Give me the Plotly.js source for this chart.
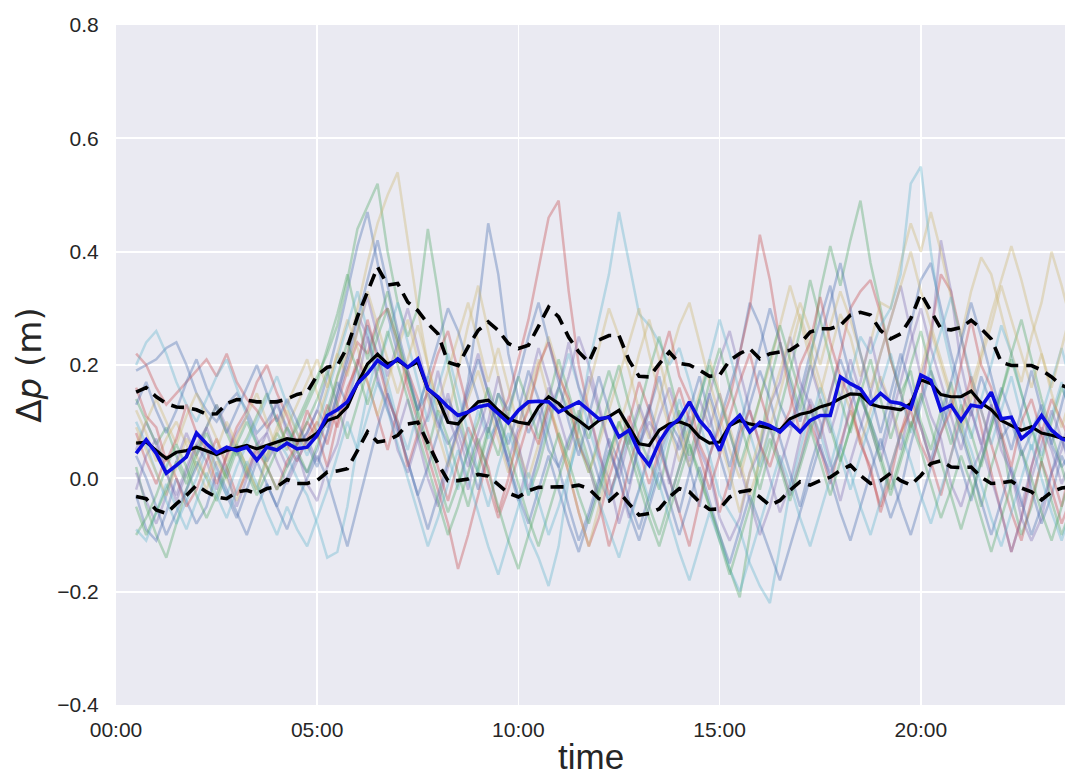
<!DOCTYPE html>
<html>
<head>
<meta charset="utf-8">
<script src="https://cdn.plot.ly/plotly-3.0.1.min.js"></script>
<style>html,body{margin:0;padding:0;background:#fff;}#chart{width:1065px;height:778px;}</style>
</head>
<body>
<div id="chart"></div>
<script>
// ---- sampling times: 15-minute steps from 00:30 ----
const startMinute = 30, stepMinute = 15, nPoints = 94;
const times = [];
for (let k = 0; k < nPoints; k++) {
  const m = startMinute + stepMinute * k;
  const hh = String(Math.floor(m / 60)).padStart(2, '0');
  const mm = String(m % 60).padStart(2, '0');
  times.push('2000-01-01 ' + hh + ':' + mm + ':00');
}

// ---- axis ticks ----
const xTickVals = ['2000-01-01 00:00:00','2000-01-01 05:00:00','2000-01-01 10:00:00','2000-01-01 15:00:00','2000-01-01 20:00:00'];
const xTickLabels = ['00:00','05:00','10:00','15:00','20:00'];
const yTickVals = [-0.4,-0.2,0.0,0.2,0.4,0.6,0.8];
const yTickLabels = ['\u22120.4','\u22120.2','0.0','0.2','0.4','0.6','0.8'];

// ---- highlighted series ----
const blueLine = [
 0.044,0.068,0.044,0.009,0.023,0.038,0.080,0.061,0.045,0.055,0.049,0.055,0.032,0.055,0.050,0.062,0.052,0.055,
 0.076,0.111,0.121,0.135,0.167,0.185,0.208,0.196,0.211,0.196,0.211,0.158,0.144,0.126,0.111,0.117,0.126,0.130,
 0.114,0.098,0.120,0.135,0.136,0.135,0.117,0.126,0.135,0.120,0.105,0.108,0.073,0.085,0.046,0.023,0.064,0.091,
 0.105,0.135,0.102,0.082,0.049,0.094,0.111,0.082,0.099,0.093,0.082,0.099,0.082,0.102,0.111,0.111,0.179,0.167,0.158,
 0.132,0.150,0.135,0.132,0.123,0.182,0.173,0.120,0.129,0.102,0.129,0.126,0.152,0.105,0.108,0.070,0.085,0.111,0.085,0.070,0.064];
const meanLine = [
 0.062,0.064,0.049,0.035,0.046,0.049,0.055,0.049,0.042,0.049,0.054,0.058,0.052,0.058,0.064,0.070,0.067,0.068,
 0.080,0.102,0.108,0.126,0.167,0.202,0.219,0.202,0.208,0.196,0.205,0.158,0.141,0.099,0.096,0.117,0.135,0.138,
 0.120,0.105,0.099,0.096,0.126,0.144,0.132,0.114,0.102,0.088,0.102,0.109,0.120,0.091,0.061,0.058,0.085,0.096,
 0.100,0.093,0.073,0.062,0.064,0.093,0.102,0.096,0.092,0.088,0.085,0.105,0.113,0.117,0.126,0.131,0.141,0.149,0.148,
 0.131,0.126,0.124,0.121,0.132,0.174,0.167,0.148,0.144,0.144,0.154,0.133,0.121,0.102,0.093,0.085,0.091,0.080,0.076,0.071,0.068];
const upperBand = [
 0.152,0.160,0.144,0.132,0.126,0.125,0.121,0.113,0.114,0.132,0.139,0.138,0.135,0.135,0.135,0.140,0.148,0.152,
 0.182,0.196,0.199,0.232,0.285,0.329,0.373,0.341,0.344,0.311,0.296,0.273,0.255,0.205,0.199,0.232,0.261,0.276,
 0.261,0.238,0.229,0.235,0.267,0.302,0.285,0.249,0.223,0.205,0.244,0.252,0.252,0.208,0.180,0.179,0.202,0.223,
 0.203,0.200,0.191,0.180,0.182,0.208,0.220,0.229,0.211,0.220,0.223,0.226,0.238,0.258,0.264,0.264,0.270,0.288,0.293,
 0.288,0.261,0.246,0.255,0.282,0.326,0.296,0.264,0.262,0.266,0.279,0.264,0.246,0.205,0.199,0.199,0.199,0.191,0.179,0.164,0.158];
const lowerBand = [
 -0.032,-0.036,-0.056,-0.062,-0.045,-0.030,-0.012,-0.024,-0.033,-0.036,-0.024,-0.021,-0.027,-0.018,-0.015,-0.002,-0.009,-0.009,
 -0.004,0.011,0.013,0.017,0.049,0.082,0.064,0.067,0.076,0.096,0.099,0.061,0.026,-0.004,-0.004,-0.001,0.007,0.004,
 -0.012,-0.026,-0.033,-0.022,-0.016,-0.015,-0.015,-0.015,-0.012,-0.018,-0.036,-0.040,-0.024,-0.045,-0.065,-0.062,-0.054,-0.033,
 -0.018,-0.024,-0.042,-0.055,-0.054,-0.033,-0.024,-0.021,-0.033,-0.048,-0.039,-0.021,-0.006,-0.012,-0.004,0.002,0.014,0.023,0.005,
 -0.009,-0.004,0.009,-0.004,-0.012,0.005,0.026,0.031,0.020,0.019,0.020,0.002,-0.009,-0.008,-0.005,-0.017,-0.024,-0.038,-0.024,-0.017,-0.015];

// ---- individual (faint) series ----
const faint01 = [
 0.19,0.20,0.21,0.23,0.24,0.20,0.15,0.12,0.10,0.13,0.15,0.12,0.08,0.10,0.13,0.09,0.06,0.08,
 0.12,0.18,0.25,0.33,0.41,0.47,0.38,0.29,0.22,0.18,0.12,0.15,0.10,0.06,0.09,0.17,
 0.30,0.45,0.36,0.22,0.14,0.08,0.12,0.05,0.02,0.07,0.11,0.06,0.00,-0.04,0.03,0.09,0.05,0.12,0.18,0.10,
 0.07,0.02,-0.05,0.04,0.10,0.16,0.22,0.31,0.27,0.20,0.13,0.09,0.15,0.22,0.28,0.34,0.25,0.18,0.14,
 0.10,0.05,0.12,0.20,0.27,0.35,0.38,0.30,0.22,0.15,0.11,0.18,0.13,0.07,0.10,0.04,0.08,0.13,0.06,0.02,0.05];
const faint02 = [
 0.02,-0.05,-0.10,-0.14,-0.08,-0.02,0.03,0.00,-0.04,0.01,0.06,0.02,-0.02,0.04,0.08,0.05,0.10,0.14,
 0.18,0.22,0.27,0.35,0.44,0.48,0.52,0.40,0.31,0.25,0.30,0.44,0.33,0.20,0.12,0.05,
 0.01,0.08,0.15,0.10,0.04,-0.03,0.02,0.09,0.16,0.12,0.06,0.01,0.07,0.14,0.20,0.13,0.07,0.03,-0.02,0.06,
 0.12,0.06,0.00,-0.05,-0.10,-0.16,-0.21,-0.10,0.05,0.17,0.24,0.18,0.12,0.20,0.33,0.41,0.34,0.42,0.49,
 0.38,0.30,0.21,0.15,0.19,0.10,0.05,0.12,0.17,0.09,0.03,-0.05,0.02,0.08,-0.03,-0.10,-0.05,0.03,0.10,0.16,0.12];
const faint03 = [
 0.22,0.20,0.16,0.13,0.15,0.17,0.19,0.21,0.18,0.22,0.17,0.14,0.12,0.09,0.11,0.06,0.03,0.07,
 0.10,0.06,0.13,0.19,0.24,0.22,0.28,0.30,0.24,0.16,0.10,0.04,-0.02,-0.08,-0.16,-0.10,
 -0.03,0.04,0.10,0.14,0.21,0.28,0.37,0.46,0.49,0.33,0.20,0.12,0.05,-0.03,0.02,0.10,0.17,0.12,0.05,0.00,
 -0.06,-0.12,-0.04,0.04,0.09,0.14,0.22,0.30,0.43,0.35,0.24,0.15,0.08,0.13,0.07,0.15,0.22,0.30,0.33,
 0.35,0.29,0.21,0.15,0.09,0.14,0.26,0.36,0.33,0.25,0.17,0.09,0.01,-0.06,-0.13,-0.07,0.02,0.08,0.14,0.10,0.06];
const faint04 = [
 0.05,0.10,0.06,0.01,-0.03,0.02,0.06,0.03,-0.02,0.04,0.08,0.11,0.07,0.03,0.06,0.02,0.05,0.08,
 0.12,0.09,0.15,0.22,0.29,0.25,0.18,0.12,0.08,0.14,0.07,0.00,-0.05,0.02,0.09,0.16,
 0.22,0.15,0.09,0.02,-0.04,0.03,0.10,0.16,0.12,0.18,0.25,0.20,0.13,0.06,0.00,-0.07,-0.02,0.05,0.11,0.16,
 0.10,0.03,0.08,0.15,0.21,0.26,0.19,0.12,0.06,0.00,-0.06,-0.01,0.07,0.14,0.10,0.03,-0.04,0.03,0.09,
 0.15,0.22,0.28,0.34,0.26,0.18,0.24,0.42,0.33,0.20,0.12,0.06,0.13,0.07,0.01,-0.05,0.02,0.09,0.05,-0.01,0.04];
const faint05 = [
 0.12,0.08,0.03,0.07,0.10,0.06,0.02,-0.02,0.03,0.00,-0.04,0.02,0.06,0.04,0.09,0.13,0.17,0.21,
 0.15,0.10,0.18,0.22,0.30,0.38,0.45,0.50,0.54,0.42,0.30,0.20,0.12,0.11,0.19,0.27,
 0.34,0.26,0.18,0.11,0.05,0.00,0.06,0.13,0.08,0.02,0.09,0.16,0.23,0.30,0.25,0.19,0.12,0.07,0.14,0.21,
 0.27,0.31,0.24,0.17,0.11,0.05,0.00,0.07,0.14,0.20,0.27,0.34,0.28,0.21,0.15,0.22,0.29,0.25,0.18,
 0.24,0.31,0.30,0.38,0.45,0.40,0.47,0.40,0.32,0.25,0.33,0.39,0.36,0.29,0.22,0.17,0.25,0.31,0.40,0.34,0.27];
const faint06 = [
 0.20,0.24,0.26,0.22,0.17,0.13,0.10,0.14,0.18,0.21,0.16,0.11,0.06,0.03,0.07,0.04,0.00,-0.03,
 -0.08,-0.14,-0.13,-0.05,0.06,0.15,0.22,0.17,0.10,0.05,0.12,0.18,0.11,0.04,-0.02,0.05,
 0.12,0.07,0.10,0.03,-0.04,-0.10,-0.14,-0.19,-0.12,0.00,0.09,0.20,0.28,0.36,0.47,0.38,0.29,0.27,0.24,0.20,
 0.23,0.17,0.10,0.04,-0.03,-0.06,-0.09,-0.15,-0.19,-0.22,-0.12,-0.02,0.05,0.12,0.08,0.02,0.09,0.18,0.25,
 0.22,0.27,0.30,0.36,0.52,0.55,0.40,0.28,0.20,0.13,0.07,0.14,0.20,0.27,0.22,0.15,0.09,0.04,0.11,0.17,0.10];
const faint07 = [
 -0.03,-0.09,-0.11,-0.06,0.00,-0.04,-0.08,-0.05,0.01,-0.03,-0.07,-0.02,0.03,-0.01,-0.05,0.00,0.04,0.01,
 0.05,0.11,0.17,0.13,0.20,0.27,0.22,0.15,0.09,0.03,-0.03,0.02,0.08,0.14,0.10,0.04,
 -0.02,0.05,0.11,0.06,0.12,0.19,0.14,0.08,0.02,-0.05,-0.11,-0.06,0.00,0.07,0.03,-0.04,-0.09,-0.03,0.04,0.09,
 0.05,0.12,0.18,0.11,0.04,-0.02,0.06,0.13,0.19,0.14,0.07,0.01,-0.05,0.02,0.08,0.15,0.21,0.16,0.10,
 0.05,-0.01,-0.07,-0.02,0.06,0.13,0.19,0.14,0.08,0.02,-0.04,0.03,0.10,0.16,0.11,0.05,-0.02,-0.08,-0.03,0.04,0.00];
const faint08 = [
 0.14,0.10,0.06,0.09,0.04,0.00,0.05,0.09,0.13,0.08,0.04,0.07,0.11,0.15,0.10,0.06,0.09,0.13,
 0.17,0.23,0.29,0.36,0.28,0.21,0.27,0.33,0.25,0.18,0.11,0.05,0.12,0.07,0.01,-0.05,
 0.02,0.09,0.04,0.11,0.18,0.13,0.07,0.14,0.21,0.15,0.09,0.03,-0.03,0.04,0.10,0.06,0.12,0.19,0.25,0.18,
 0.11,0.04,0.10,0.17,0.23,0.16,0.10,0.04,-0.02,0.05,0.12,0.19,0.26,0.35,0.28,0.21,0.14,0.08,0.15,
 0.21,0.14,0.07,0.13,0.20,0.26,0.19,0.12,0.06,0.13,0.08,0.02,0.09,0.15,0.22,0.28,0.21,0.14,0.08,0.02,-0.04];
const faint09 = [
 0.08,0.03,-0.01,0.04,0.00,-0.05,-0.02,0.03,0.07,0.02,-0.03,0.01,0.05,0.02,-0.02,0.03,0.06,0.10,
 0.07,0.13,0.09,0.15,0.21,0.17,0.11,0.05,0.12,0.19,0.14,0.08,0.02,-0.04,0.03,0.09,
 0.05,-0.01,-0.07,-0.02,0.04,0.10,0.06,0.13,0.07,0.01,-0.06,-0.12,-0.07,0.00,0.06,0.11,0.05,-0.01,0.05,0.11,
 0.16,0.10,0.04,-0.02,0.04,0.11,0.17,0.22,0.15,0.09,0.03,-0.03,0.03,0.10,0.05,-0.01,0.06,0.12,0.07,
 0.01,-0.05,0.02,0.08,0.14,0.09,0.03,-0.03,0.04,0.11,0.18,0.12,0.06,0.00,-0.06,-0.11,-0.04,0.03,-0.02,-0.08,-0.03];
const faint10 = [
 0.01,-0.04,-0.08,-0.03,0.03,0.08,0.04,0.09,0.13,0.09,0.05,0.00,0.04,0.08,0.03,-0.01,0.03,0.07,
 0.03,0.08,0.14,0.20,0.26,0.32,0.25,0.18,0.24,0.30,0.23,0.16,0.09,0.15,0.08,0.02,
 0.08,0.14,0.09,0.03,0.09,0.16,0.23,0.17,0.11,0.05,0.11,0.18,0.12,0.06,0.00,0.07,0.13,0.08,0.02,-0.04,
 0.02,0.08,0.14,0.09,0.15,0.08,0.02,-0.04,-0.10,-0.05,0.02,0.08,0.14,0.20,0.14,0.08,0.14,0.21,0.15,
 0.09,0.03,0.10,0.17,0.24,0.30,0.23,0.17,0.11,0.05,0.12,0.06,0.00,-0.06,-0.13,-0.07,0.00,0.06,0.12,0.07,0.01];
const faint11 = [
 0.06,0.10,0.14,0.10,0.06,0.11,0.15,0.11,0.07,0.03,0.07,0.11,0.15,0.10,0.05,0.09,0.13,0.17,
 0.21,0.16,0.22,0.28,0.23,0.17,0.11,0.17,0.23,0.28,0.21,0.14,0.08,0.02,0.08,0.14,
 0.19,0.13,0.07,0.01,0.07,0.13,0.19,0.25,0.19,0.13,0.07,0.01,0.06,0.12,0.18,0.24,0.30,0.22,0.15,0.09,
 0.03,0.09,0.15,0.21,0.15,0.09,0.03,-0.03,0.03,0.09,0.15,0.22,0.29,0.23,0.17,0.11,0.17,0.12,0.06,
 0.12,0.18,0.13,0.07,0.13,0.19,0.26,0.20,0.14,0.08,0.14,0.21,0.27,0.34,0.28,0.22,0.16,0.22,0.15,0.09,0.15];
const faint12 = [
 0.10,0.06,0.01,-0.04,-0.08,-0.04,0.00,0.05,0.01,-0.03,0.02,0.06,0.10,0.14,0.18,0.13,0.08,0.04,
 0.09,0.15,0.21,0.27,0.33,0.26,0.19,0.25,0.31,0.24,0.17,0.10,0.16,0.22,0.15,0.08,
 0.01,-0.05,0.02,0.08,0.03,-0.03,0.04,0.10,0.16,0.22,0.16,0.09,0.03,-0.04,0.02,0.08,0.02,-0.04,0.02,0.08,
 0.14,0.08,0.14,0.21,0.28,0.22,0.15,0.08,0.02,0.09,0.03,-0.03,0.03,0.09,0.16,0.10,0.04,-0.02,0.04,
 0.10,0.16,0.22,0.15,0.08,0.14,0.20,0.26,0.32,0.25,0.18,0.12,0.06,0.12,0.18,0.11,0.05,0.11,0.17,0.23,0.16];
const faint13 = [
 0.04,0.00,-0.05,-0.10,-0.06,-0.02,0.02,0.06,0.02,-0.02,-0.06,-0.10,-0.05,-0.01,-0.05,-0.09,-0.04,0.00,
 0.04,0.00,-0.06,-0.12,-0.05,0.02,0.09,0.15,0.09,0.03,-0.03,-0.09,-0.03,0.03,0.09,0.15,
 0.21,0.15,0.09,0.03,-0.03,-0.08,-0.02,0.04,-0.02,-0.08,-0.13,-0.07,-0.01,0.05,0.00,-0.06,-0.11,-0.05,0.01,-0.04,
 -0.10,-0.04,0.02,-0.04,-0.10,-0.15,-0.09,-0.03,-0.08,-0.13,-0.18,-0.12,-0.06,0.00,0.06,0.00,-0.06,-0.11,-0.05,
 0.01,0.07,0.01,-0.05,-0.10,-0.04,0.02,0.08,0.14,0.08,0.02,-0.04,-0.10,-0.04,0.02,-0.04,-0.10,-0.05,0.01,0.07,0.02];
const faint14 = [
 -0.10,-0.07,-0.03,0.02,0.06,0.02,-0.03,-0.07,-0.03,0.02,0.06,0.10,0.06,0.02,-0.02,0.02,0.06,0.10,
 0.14,0.19,0.13,0.07,0.13,0.19,0.25,0.30,0.24,0.18,0.12,0.06,0.00,-0.06,-0.01,0.05,
 0.10,0.16,0.11,0.05,-0.01,-0.07,-0.12,-0.06,0.00,0.06,0.12,0.07,0.13,0.19,0.13,0.07,0.01,-0.05,-0.10,-0.04,
 0.02,0.08,0.14,0.20,0.14,0.08,0.02,0.08,0.14,0.21,0.27,0.21,0.15,0.09,0.03,-0.03,0.03,0.09,0.15,
 0.09,0.03,-0.03,0.03,0.09,0.15,0.09,0.03,-0.03,-0.09,-0.03,0.03,0.09,0.15,0.21,0.15,0.09,0.03,-0.04,-0.10,-0.05];
const faint15 = [
 0.16,0.11,0.09,0.03,0.07,0.13,0.08,0.05,-0.01,0.04,0.09,0.12,0.17,0.20,0.15,0.11,0.06,0.12,
 0.08,0.02,0.10,0.16,0.20,0.28,0.21,0.14,0.10,0.02,0.08,0.16,0.22,0.26,0.19,0.12,
 0.06,0.02,-0.06,0.00,0.08,0.12,0.20,0.24,0.18,0.14,0.06,0.02,-0.04,-0.12,-0.06,0.02,0.08,0.12,0.20,0.26,
 0.18,0.14,0.06,0.02,-0.06,0.00,0.08,0.12,0.06,0.02,0.08,0.12,0.20,0.24,0.32,0.24,0.18,0.14,0.06,
 0.02,-0.06,0.00,0.08,0.12,0.06,0.02,0.08,0.12,0.20,0.28,0.20,0.16,0.08,0.02,0.10,0.14,0.08,0.01,-0.05,0.03];
const faint16 = [
 -0.02,0.04,0.07,0.01,-0.04,0.01,0.06,0.09,0.04,0.01,-0.05,0.00,0.06,0.08,0.14,0.08,0.05,-0.01,
 -0.04,0.02,0.06,0.13,0.17,0.25,0.17,0.13,0.05,0.01,0.07,0.11,0.19,0.11,0.06,-0.02,
 0.06,0.10,0.18,0.10,0.06,-0.02,0.04,0.12,0.16,0.24,0.16,0.12,0.04,0.00,-0.08,-0.02,0.06,0.10,0.07,-0.01,
 0.07,0.11,0.05,0.01,-0.07,-0.11,-0.07,0.01,0.05,0.13,0.17,0.25,0.17,0.13,0.05,0.01,0.05,0.13,0.17,
 0.25,0.17,0.13,0.05,0.13,0.17,0.11,0.07,-0.01,-0.05,0.01,0.05,0.13,0.05,0.01,-0.07,-0.11,-0.07,0.01,0.05,0.13];
const faint17 = [
 0.09,0.05,0.01,-0.03,0.02,0.07,0.04,0.00,0.05,0.10,0.06,0.02,-0.02,0.03,0.08,0.12,0.08,0.05,
 0.10,0.16,0.22,0.18,0.26,0.33,0.27,0.21,0.15,0.21,0.27,0.20,0.13,0.19,0.25,0.31,
 0.24,0.17,0.23,0.16,0.09,0.15,0.21,0.14,0.07,0.01,-0.06,-0.12,-0.05,0.02,0.09,0.15,0.22,0.28,0.21,0.14,
 0.08,0.02,0.08,0.14,0.07,0.01,-0.06,0.01,0.07,0.13,0.19,0.25,0.31,0.26,0.20,0.27,0.33,0.28,0.22,
 0.16,0.22,0.28,0.34,0.40,0.33,0.27,0.21,0.15,0.09,0.16,0.22,0.29,0.35,0.41,0.35,0.28,0.22,0.16,0.23,0.30];
const faint18 = [
 -0.09,-0.11,-0.06,-0.01,-0.05,-0.09,-0.04,0.01,-0.03,-0.07,-0.02,0.03,-0.01,-0.06,-0.10,-0.05,-0.09,-0.12,
 -0.07,-0.02,0.04,0.10,0.05,0.11,0.17,0.12,0.06,0.00,-0.06,-0.12,-0.07,-0.01,0.05,0.00,
 -0.06,-0.12,-0.17,-0.11,-0.05,0.01,-0.04,-0.10,-0.05,0.01,0.07,0.02,-0.04,-0.09,-0.14,-0.08,-0.02,0.04,-0.01,-0.07,
 -0.13,-0.18,-0.12,-0.06,-0.11,-0.16,-0.20,-0.14,-0.08,-0.02,0.04,-0.01,-0.07,-0.12,-0.06,0.00,0.06,0.01,-0.05,
 -0.10,-0.04,0.02,0.08,0.03,-0.03,-0.08,-0.02,0.04,0.10,0.05,-0.01,-0.07,-0.12,-0.06,0.00,0.06,0.00,-0.06,-0.11,-0.05];
const faint19 = [
 0.13,0.17,0.12,0.08,0.12,0.17,0.21,0.16,0.12,0.08,0.12,0.16,0.20,0.15,0.10,0.14,0.10,0.06,
 0.02,0.08,0.15,0.21,0.28,0.35,0.42,0.34,0.26,0.19,0.12,0.18,0.24,0.30,0.26,0.20,
 0.14,0.08,0.15,0.12,0.18,0.25,0.31,0.24,0.17,0.10,0.04,0.11,0.18,0.12,0.05,-0.01,0.06,0.13,0.07,0.00,
 -0.06,0.01,0.08,0.15,0.09,0.02,0.09,0.16,0.23,0.30,0.24,0.17,0.10,0.17,0.24,0.31,0.38,0.30,0.22,
 0.15,0.08,0.15,0.22,0.16,0.09,0.03,0.10,0.17,0.24,0.31,0.25,0.18,0.11,0.05,0.12,0.19,0.12,0.06,0.13,0.20];
const faint20 = [
 -0.05,-0.10,-0.06,-0.02,0.03,-0.01,0.04,0.08,0.04,0.00,0.05,0.01,-0.03,0.01,0.05,0.09,0.05,0.01,
 0.06,0.12,0.18,0.24,0.19,0.13,0.19,0.26,0.20,0.14,0.08,0.02,-0.04,-0.10,-0.05,0.01,
 0.07,0.01,-0.05,-0.11,-0.16,-0.10,-0.04,0.02,0.08,0.03,-0.03,-0.08,-0.02,0.04,0.10,0.05,-0.01,-0.07,-0.12,-0.06,
 0.00,0.06,0.01,-0.05,-0.11,-0.17,-0.11,-0.05,0.01,0.07,0.02,-0.04,0.02,0.08,0.14,0.09,0.03,0.09,0.15,
 0.10,0.04,-0.02,0.04,0.10,0.05,-0.01,-0.07,-0.02,0.04,-0.01,-0.07,-0.13,-0.07,-0.01,0.05,0.00,-0.06,-0.11,-0.05,0.01];

const faintSeries = [faint01,faint02,faint03,faint04,faint05,faint06,faint07,faint08,faint09,faint10,
                     faint11,faint12,faint13,faint14,faint15,faint16,faint17,faint18,faint19,faint20];
const faintColors = ['#4C72B0','#55A868','#C44E52','#8172B2','#CCB974','#64B5CD',
                     '#4C72B0','#55A868','#C44E52','#8172B2','#CCB974','#64B5CD',
                     '#4C72B0','#55A868','#C44E52','#8172B2','#CCB974','#64B5CD',
                     '#4C72B0','#55A868'];

const traces = [];
faintSeries.forEach((ys, i) => {
  traces.push({x: times, y: ys, type: 'scatter', mode: 'lines',
    line: {color: faintColors[i], width: 2.5}, opacity: 0.38, hoverinfo: 'skip'});
});
traces.push({x: times, y: upperBand, type: 'scatter', mode: 'lines',
  line: {color: '#000000', width: 3.6, dash: '13px,8px'}});
traces.push({x: times, y: lowerBand, type: 'scatter', mode: 'lines',
  line: {color: '#000000', width: 3.6, dash: '13px,8px'}});
traces.push({x: times, y: meanLine, type: 'scatter', mode: 'lines',
  line: {color: '#000000', width: 3.2}});
traces.push({x: times, y: blueLine, type: 'scatter', mode: 'lines',
  line: {color: '#0C0CE0', width: 3.6}});

const fontFam = '"Liberation Sans", Arial, sans-serif';
const plotTop = 25, plotBottom = 705, figHeight = 778;
const layout = {
  width: 1065, height: figHeight,
  margin: {l: 116, r: 0, t: plotTop, b: figHeight - plotBottom, pad: 0},
  paper_bgcolor: '#ffffff', plot_bgcolor: '#EAEAF2',
  showlegend: false,
  font: {family: fontFam, color: '#262626'},
  xaxis: {
    type: 'date',
    range: ['2000-01-01 00:00:00', '2000-01-01 23:35:00'],
    tickvals: xTickVals, ticktext: xTickLabels,
    showgrid: true, gridcolor: '#ffffff', gridwidth: 1.8,
    zeroline: false, showline: false,
    ticks: 'outside', ticklen: 6, tickcolor: 'rgba(0,0,0,0)',
    tickfont: {family: fontFam, size: 21, color: '#262626'},
    title: {text: ''},
    automargin: false
  },
  yaxis: {
    range: [-0.4, 0.8],
    tickvals: yTickVals, ticktext: yTickLabels,
    showgrid: true, gridcolor: '#ffffff', gridwidth: 1.8,
    zeroline: false, showline: false,
    ticks: 'outside', ticklen: 12, tickcolor: 'rgba(0,0,0,0)',
    tickfont: {family: fontFam, size: 21, color: '#262626'},
    title: {text: '\u0394<i>p</i> (m)',
            font: {family: '"DejaVu Sans", sans-serif', size: 34, color: '#262626'}, standoff: 5},
    automargin: false
  },
  annotations: [{
    text: 'time', xref: 'paper', yref: 'paper', x: 0.5, xanchor: 'center',
    y: -(figHeight - 1 - plotBottom) / (plotBottom - plotTop), yanchor: 'bottom',
    showarrow: false, borderpad: 0,
    font: {family: fontFam, size: 35, color: '#262626'}
  }]
};

Plotly.newPlot('chart', traces, layout, {displayModeBar: false, staticPlot: true});
</script>
</body>
</html>
